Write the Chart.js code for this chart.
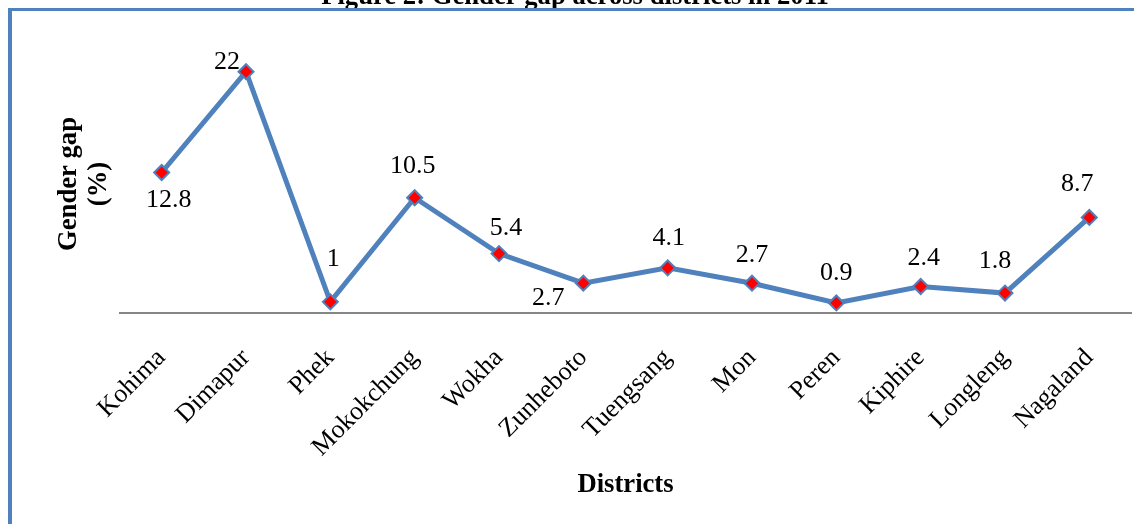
<!DOCTYPE html>
<html>
<head>
<meta charset="utf-8">
<script src="https://cdn.jsdelivr.net/npm/chart.js@4/dist/chart.umd.min.js"></script>
<style>
  html, body { margin: 0; padding: 0; background: #ffffff; }
  #wrap { position: relative; width: 1134px; height: 524px; overflow: hidden; background: #ffffff; }
  #frame {
    position: absolute; left: 8px; top: 8px; right: 0; bottom: 0;
    border-left: 4px solid #4F81BD; border-top: 3px solid #4F81BD;
    pointer-events: none;
  }
  canvas { position: absolute; left: 0; top: 0; }
</style>
</head>
<body>
<div id="wrap">
  <canvas id="chart" width="1134" height="524"></canvas>
  <div id="frame"></div>
</div>
<script>
// Gender gap (%) by district, 2011
const districts = ['Kohima', 'Dimapur', 'Phek', 'Mokokchung', 'Wokha', 'Zunheboto',
                   'Tuengsang', 'Mon', 'Peren', 'Kiphire', 'Longleng', 'Nagaland'];
const genderGap = [12.8, 22, 1, 10.5, 5.4, 2.7, 4.1, 2.7, 0.9, 2.4, 1.8, 8.7];

const chartTitle = 'Figure 2: Gender gap across districts in 2011';
const yTitleLines = ['Gender gap', '(%)'];
const xTitle = 'Districts';

// where each value label sits relative to its marker (dx, dy in px)
const labelNudge = [[7, 28], [-19, -10], [3, -43], [-2, -32], [7, -25], [-35, 15],
                    [1, -30], [0, -28], [0, -30], [3, -28], [-10, -32], [-12, -33]];

const SERIF = '"Liberation Serif", "Times New Roman", serif';
const BLUE = '#4F81BD';

const annotate = {
  id: 'annotate',
  afterDatasetsDraw(chart) {
    const ctx = chart.ctx;
    const meta = chart.getDatasetMeta(0);
    ctx.save();
    ctx.fillStyle = '#000000';
    ctx.font = '26px ' + SERIF;
    ctx.textAlign = 'center';
    ctx.textBaseline = 'middle';
    meta.data.forEach((pt, i) => {
      const [dx, dy] = labelNudge[i];
      ctx.fillText(String(genderGap[i]), pt.x + dx, pt.y + dy);
    });

    // chart heading (runs off the top edge)
    ctx.font = 'bold 26.67px ' + SERIF;
    ctx.textBaseline = 'alphabetic';
    ctx.fillText(chartTitle, 575, 4);

    // vertical axis caption, two rotated lines
    ctx.textBaseline = 'middle';
    ctx.translate(69.5, 184);
    ctx.rotate(-Math.PI / 2);
    yTitleLines.forEach((line, i) => ctx.fillText(line, 0, i * 30));
    ctx.restore();
  }
};

new Chart(document.getElementById('chart'), {
  type: 'line',
  data: {
    labels: districts,
    datasets: [{
      data: genderGap,
      borderColor: BLUE,
      borderWidth: 5,
      tension: 0,
      fill: false,
      pointStyle: 'rectRot',
      pointRadius: 7.5,
      pointHoverRadius: 7.5,
      pointBackgroundColor: '#FF0000',
      pointBorderColor: BLUE,
      pointBorderWidth: 2,
      clip: false
    }]
  },
  options: {
    responsive: false,
    animation: false,
    events: [],
    layout: {
      autoPadding: false,
      padding: { top: 38.8, left: 119.5, right: 2.5, bottom: 0 }
    },
    plugins: {
      legend: { display: false },
      title: { display: false },
      tooltip: { enabled: false }
    },
    scales: {
      x: {
        offset: true,
        grid: { display: false, drawTicks: false },
        border: { display: true, color: '#868686', width: 2 },
        ticks: {
          autoSkip: false,
          maxRotation: 45,
          minRotation: 45,
          padding: 30,
          color: '#000000',
          font: { family: SERIF, size: 26 }
        },
        title: {
          display: true,
          text: xTitle,
          color: '#000000',
          font: { family: SERIF, size: 26.67, weight: 'bold' },
          padding: { top: 0, bottom: 23 }
        },
        afterFit(scale) {
          scale.height = 211.2;
          scale.paddingLeft = 0;
          scale.paddingRight = 0;
        }
      },
      y: {
        display: false,
        min: 0,
        max: 25
      }
    }
  },
  plugins: [annotate]
});
</script>
</body>
</html>
